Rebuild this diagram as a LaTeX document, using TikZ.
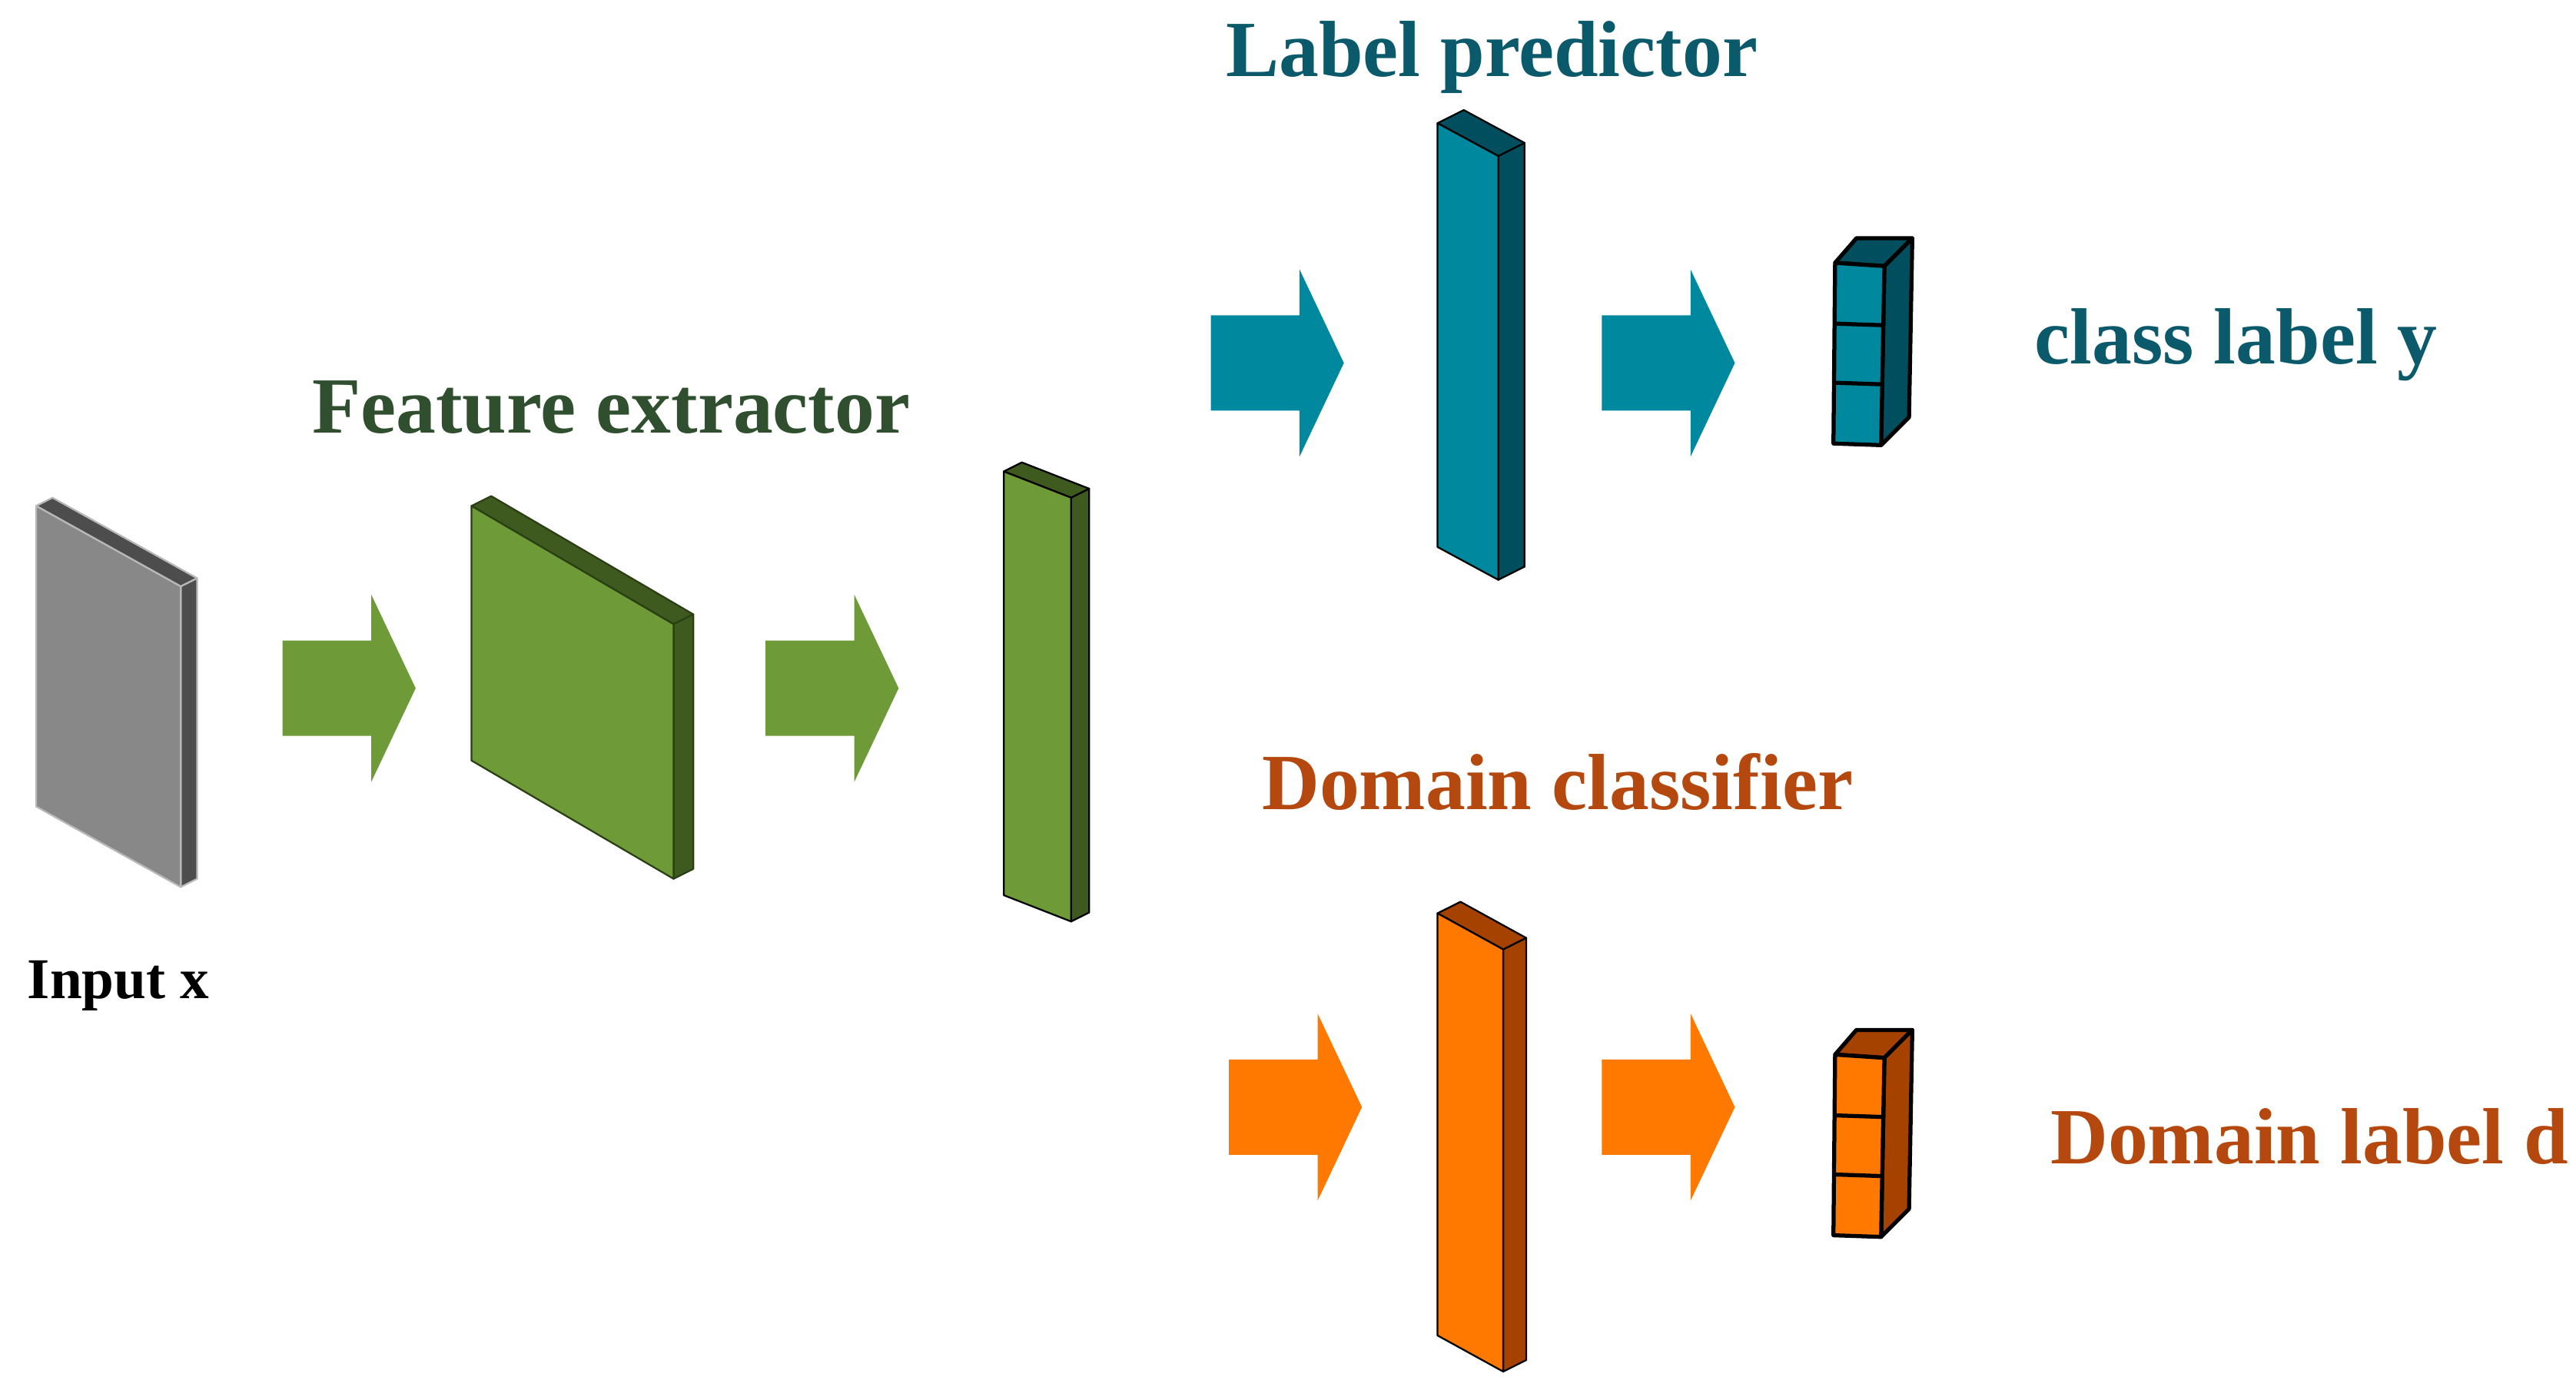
\documentclass[tikz,border=0pt]{standalone}
\usepackage{fontspec}
\setmainfont{Liberation Serif}
\begin{document}
\begin{tikzpicture}[x=0.05cm,y=-0.05cm,line join=round,
  lbl/.style={font=\bfseries\fontsize{69}{72}\selectfont},
  edge/.style={draw=black,line width=3.5pt}]
\definecolor{gfront}{HTML}{6E9A38}\definecolor{gdark}{HTML}{3E5A1E}
\definecolor{tfront}{HTML}{00889E}\definecolor{tdark}{HTML}{004E5E}
\definecolor{ofront}{HTML}{FF7800}\definecolor{odark}{HTML}{A64200}
\definecolor{grfront}{HTML}{888888}\definecolor{grdark}{HTML}{4D4D4D}
\definecolor{gtext}{HTML}{2F4F2F}\definecolor{ttext}{HTML}{0B5A6B}\definecolor{otext}{HTML}{B5480E}
\useasboundingbox (0,0) rectangle (1568,852);
\newcommand{\myslab}[9]{%
  \fill[#2,draw=#9,line width=1.5pt] (#3,#4) -- ++(#8,-#8*0.5) -- (#5+#8,#6-#8*0.5) -- (#5,#6) -- cycle;
  \fill[#2,draw=#9,line width=1.5pt] (#5,#6) -- (#5+#8,#6-#8*0.5) -- (#5+#8,#6+#7-#8*0.5) -- (#5,#6+#7) -- cycle;
  \fill[#1,draw=#9,line width=1.5pt] (#3,#4) -- (#5,#6) -- (#5,#6+#7) -- (#3,#4+#7) -- cycle;}
\myslab{grfront}{grdark}{22}{308}{110}{357}{183}{10}{grfront!60}
\myslab{gfront}{gdark}{287}{308}{410}{380}{155}{12}{gdark!70!black}
\myslab{gfront}{gdark}{611}{287}{652}{303}{258}{11}{black}
\myslab{tfront}{tdark}{875}{75}{912}{95}{258}{16}{black}
\myslab{ofront}{odark}{875}{556}{915}{578}{257}{14}{black}
\newcommand{\mycube}[4]{%
  \fill[#2,edge] (#3,#4) -- (#3+13,#4-15) -- (#3+47,#4-15) -- (#3+30,#4+2) -- cycle;
  \fill[#2,edge] (#3+30,#4+2) -- (#3+47,#4-15) -- (#3+45,#4+94) -- (#3+28,#4+111) -- cycle;
  \fill[#1,edge] (#3,#4) -- (#3+30,#4+2) -- (#3+28,#4+111) -- (#3-1,#4+110) -- cycle;
  \draw[edge] (#3-0.5,#4+37) -- (#3+29.5,#4+38);
  \draw[edge] (#3-0.5,#4+73) -- (#3+29,#4+74);}
\mycube{tfront}{tdark}{1117}{160}
\mycube{ofront}{odark}{1117}{642}
\newcommand{\myarrow}[3]{%
  \fill[#1] (#2,#3-29) -- (#2+54,#3-29) -- (#2+54,#3-57) -- (#2+81,#3) -- (#2+54,#3+57) -- (#2+54,#3+29) -- (#2,#3+29) -- cycle;}
\myarrow{gfront}{172}{419}
\myarrow{gfront}{466}{419}
\myarrow{tfront}{737}{221}
\myarrow{tfront}{975}{221}
\myarrow{ofront}{748}{674}
\myarrow{ofront}{975}{674}
\node[lbl,text=gtext] (fe) at (372,248) {Feature extractor};
\node[lbl,text=ttext] (lp) at (908,35) {Label predictor};
\node[lbl,text=ttext] (cl) at (1361,210) {class label y};
\node[lbl,text=otext] (dc) at (948,476) {Domain classifier};
\node[lbl,text=otext,anchor=west,inner sep=0pt] (dl) at (1248,692) {Domain label d};
\node[font=\bfseries\fontsize{50}{54}\selectfont] (in) at (72,600) {Input x};
\end{tikzpicture}
\end{document}
